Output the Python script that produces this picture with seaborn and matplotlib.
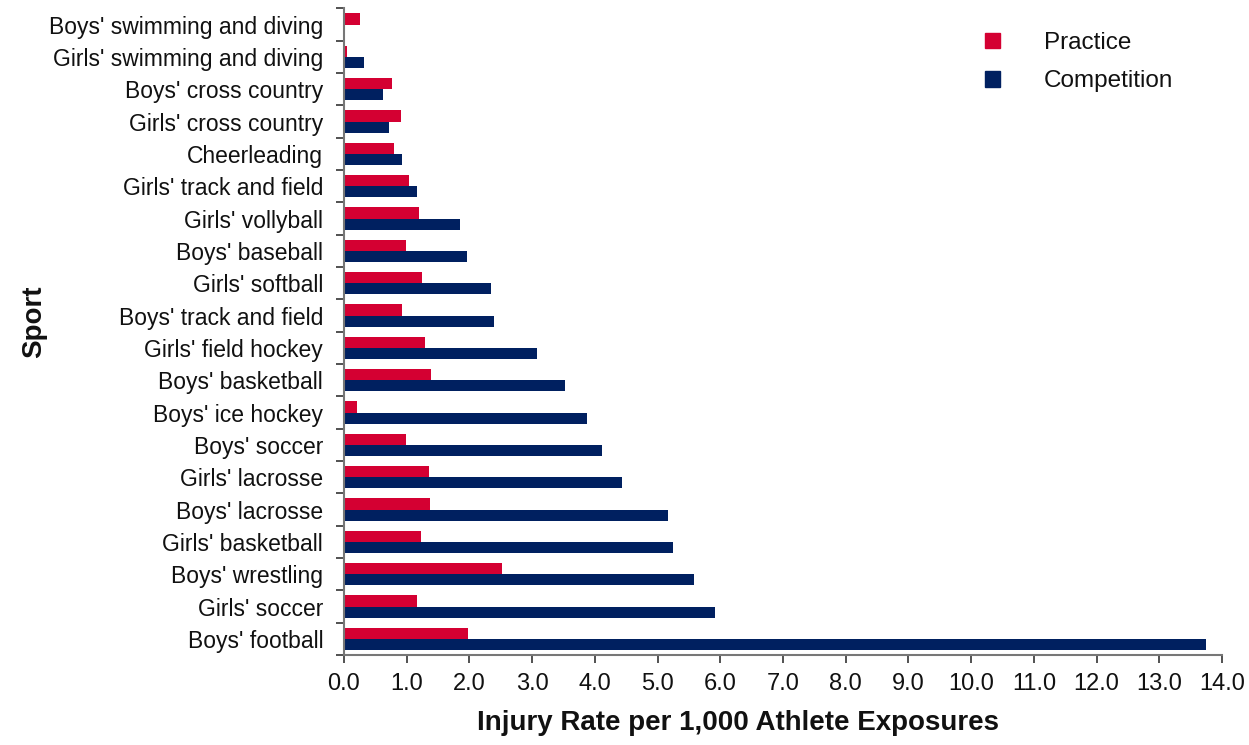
import pandas as pd
import seaborn as sns
import matplotlib.pyplot as plt
from matplotlib.patches import Patch
from matplotlib.ticker import FormatStrFormatter, FixedLocator, MultipleLocator

# data (top to bottom)
sports = ["Boys' swimming and diving", "Girls' swimming and diving", "Boys' cross country",
          "Girls' cross country", "Cheerleading", "Girls' track and field", "Girls' vollyball",
          "Boys' baseball", "Girls' softball", "Boys' track and field", "Girls' field hockey",
          "Boys' basketball", "Boys' ice hockey", "Boys' soccer", "Girls' lacrosse",
          "Boys' lacrosse", "Girls' basketball", "Boys' wrestling", "Girls' soccer",
          "Boys' football"]
practice = [0.26, 0.05, 0.76, 0.91, 0.79, 1.03, 1.19, 0.99, 1.25, 0.92,
            1.29, 1.38, 0.20, 0.99, 1.35, 1.37, 1.23, 2.52, 1.16, 1.98]
competition = [0.0, 0.32, 0.63, 0.71, 0.93, 1.17, 1.85, 1.96, 2.34, 2.40,
               3.07, 3.52, 3.87, 4.11, 4.43, 5.17, 5.24, 5.58, 5.92, 13.75]

df = pd.DataFrame({"Sport": sports * 2,
                   "Rate": practice + competition,
                   "Type": ["Practice"] * len(sports) + ["Competition"] * len(sports)})

sns.set_style("white")
plt.rcParams['font.family'] = ['Liberation Sans', 'DejaVu Sans']

colors = {"Practice": "#D40032", "Competition": "#002060"}

fig = plt.figure(figsize=(12.49, 7.45), dpi=100)
ax = fig.add_axes([0.2754, 0.1208, 0.703, 0.868])
sns.barplot(data=df, y="Sport", x="Rate", hue="Type", order=sports,
            hue_order=["Practice", "Competition"], palette=colors, saturation=1,
            width=0.7, linewidth=0, ax=ax, legend=False)

ax.set_xlim(0, 14)
ax.set_ylim(len(sports) - 0.5, -0.5)
ax.xaxis.set_major_locator(MultipleLocator(1))
ax.xaxis.set_major_formatter(FormatStrFormatter('%.1f'))
ax.yaxis.set_minor_locator(FixedLocator([i - 0.5 for i in range(len(sports) + 1)]))
ax.tick_params(axis='y', which='major', length=0, labelsize=16.5, pad=15, labelcolor='#111111')
ax.tick_params(axis='y', which='minor', length=6, width=1.2, color='#333333', direction='out', left=True)
ax.tick_params(axis='x', which='major', length=6, width=1.2, color='#333333', direction='out',
               bottom=True, labelsize=17, pad=7, labelcolor='#111111')

for s in ['top', 'right']:
    ax.spines[s].set_visible(False)
for s in ['left', 'bottom']:
    ax.spines[s].set_color('#777777')
    ax.spines[s].set_linewidth(1.5)

ax.set_xlabel("Injury Rate per 1,000 Athlete Exposures", fontsize=20, fontweight='bold',
              color='#111111')
ax.set_ylabel("Sport", fontsize=20, fontweight='bold', color='#111111')
ax.xaxis.set_label_coords(0.449, -0.085)
ax.yaxis.set_label_coords(-0.338, 0.515)

handles = [Patch(color=colors["Practice"], label="Practice"),
           Patch(color=colors["Competition"], label="Competition")]
ax.legend(handles=handles, loc='upper right', bbox_to_anchor=(0.969, 0.997), frameon=False,
          fontsize=17.5, handlelength=0.6, handleheight=0.6, handletextpad=1.8, labelspacing=0.67,
          labelcolor='#111111')

fig.savefig("out.png", dpi=100)
